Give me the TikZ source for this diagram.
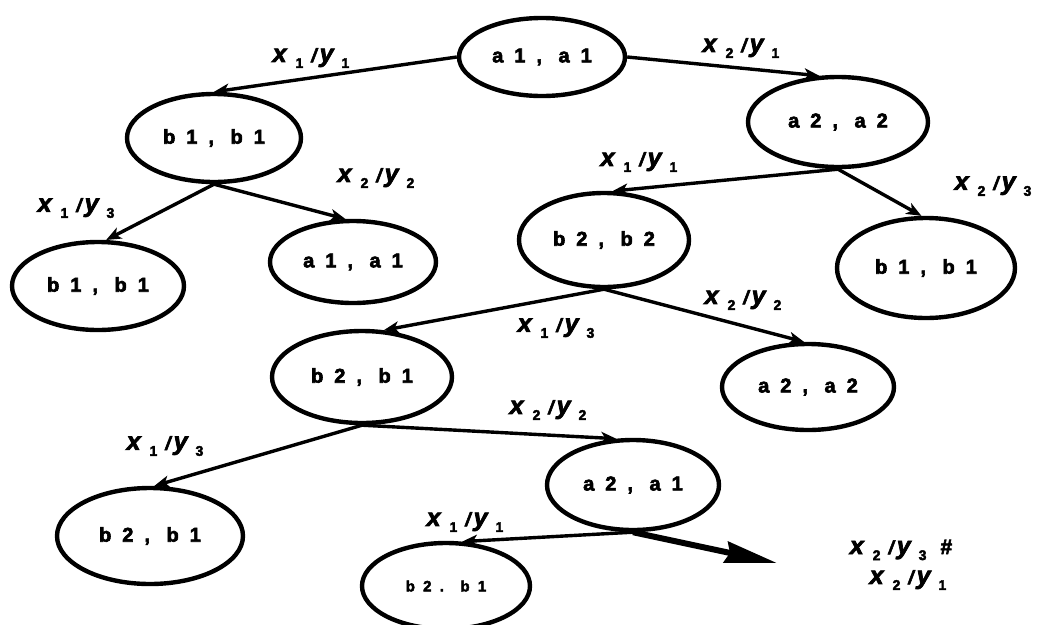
\documentclass[tikz,border=0pt]{standalone}
\usepackage{fontspec}
\setmainfont{Liberation Sans}
\newfontfamily\nodefont{Liberation Sans Bold}[LetterSpace=55,FakeBold=3]
\newfontfamily\labfont{Liberation Sans Bold Italic}[FakeBold=3]
\newfontfamily\subfont{Liberation Sans Bold}[FakeBold=3]
\usetikzlibrary{shapes.geometric,arrows.meta}
\newcommand\edgelab[4]{{\labfont\fontsize{25}{25}\selectfont #1}\kern9pt\raisebox{-6pt}{\subfont\fontsize{14}{14}\selectfont #2}\kern8pt{\labfont\fontsize{19}{19}\selectfont /}\kern3pt{\labfont\fontsize{25}{25}\selectfont #3}\kern8pt\raisebox{-6pt}{\subfont\fontsize{14}{14}\selectfont #4}}
\tikzset{
  st/.style={ellipse, draw, line width=4.4pt, inner sep=0pt,
    font=\nodefont\fontsize{20}{20}\selectfont},
  smallst/.style={st, font=\nodefont\fontsize{15}{15}\selectfont},
  edge/.style={line width=3.4pt, -{Stealth[length=15pt,width=12pt,inset=4pt]}},
  bigedge/.style={line width=6pt, -{Stealth[length=52pt,width=21pt,inset=4pt]}},
  lab/.style={inner sep=0pt, anchor=center},
}
\begin{document}
\begin{tikzpicture}[x=1pt,y=-1pt]
\useasboundingbox (0,0) rectangle (1039,624);
% states
\node[st, minimum width=166pt, minimum height=78pt] (A) at (542,57) {a1, a1};
\node[st, minimum width=174pt, minimum height=88pt] (B) at (214,138) {b1, b1};
\node[st, minimum width=180pt, minimum height=90pt] (C) at (838,122) {a2, a2};
\node[st, minimum width=172pt, minimum height=88pt] (D) at (98,286) {b1, b1};
\node[st, minimum width=166pt, minimum height=82pt] (E) at (353,262) {a1, a1};
\node[st, minimum width=170pt, minimum height=94pt] (F) at (604,240) {b2, b2};
\node[st, minimum width=178pt, minimum height=100pt] (G) at (926,268) {b1, b1};
\node[st, minimum width=180pt, minimum height=92pt] (H) at (362,377) {b2, b1};
\node[st, minimum width=172pt, minimum height=86pt] (I) at (808,387) {a2, a2};
\node[st, minimum width=172pt, minimum height=90pt] (J) at (633,485) {a2, a1};
\node[st, minimum width=186pt, minimum height=96pt] (K) at (150,536) {b2, b1};
\node[smallst, minimum width=168pt, minimum height=86pt] (L) at (446,586) {b2. b1};
\coordinate (out) at (777,563);
% transitions
\draw[edge] (A.west) -- (B.north);
\draw[edge] (A.east) -- (C.112);
\draw[edge] (B.south) -- (D.80);
\draw[edge] (B.south) -- (E.100);
\draw[edge] (C.south) -- (F.80);
\draw[edge] (C.south) -- (G.95);
\draw[edge] (F.south) -- (H.65);
\draw[edge] (F.south) -- (I.95);
\draw[edge] (H.south) -- (K.85);
\draw[edge] (H.south) -- (J.110);
\draw[edge] (J.south) -- (L.70);
\draw[bigedge] (J.south) -- (out);
% labels
\node[lab] (l1) at (311,58) {\edgelab{x}{1}{y}{1}};
\node[lab] (l2) at (741,48) {\edgelab{x}{2}{y}{1}};
\node[lab] (l3) at (76,208) {\edgelab{x}{1}{y}{3}};
\node[lab] (l4) at (376,178) {\edgelab{x}{2}{y}{2}};
\node[lab] (l5) at (639,162) {\edgelab{x}{1}{y}{1}};
\node[lab] (l6) at (993,186) {\edgelab{x}{2}{y}{3}};
\node[lab] (l7) at (556,328) {\edgelab{x}{1}{y}{3}};
\node[lab] (l8) at (743,300) {\edgelab{x}{2}{y}{2}};
\node[lab] (l9) at (165,446) {\edgelab{x}{1}{y}{3}};
\node[lab] (l10) at (548,410) {\edgelab{x}{2}{y}{2}};
\node[lab] (l11) at (465,522) {\edgelab{x}{1}{y}{1}};
\node[lab] (l12) at (901,550) {\edgelab{x}{2}{y}{3}\kern14pt{\subfont\fontsize{21}{21}\selectfont\#}};
\node[lab] (l13) at (908,580) {\edgelab{x}{2}{y}{1}};
\end{tikzpicture}
\end{document}
